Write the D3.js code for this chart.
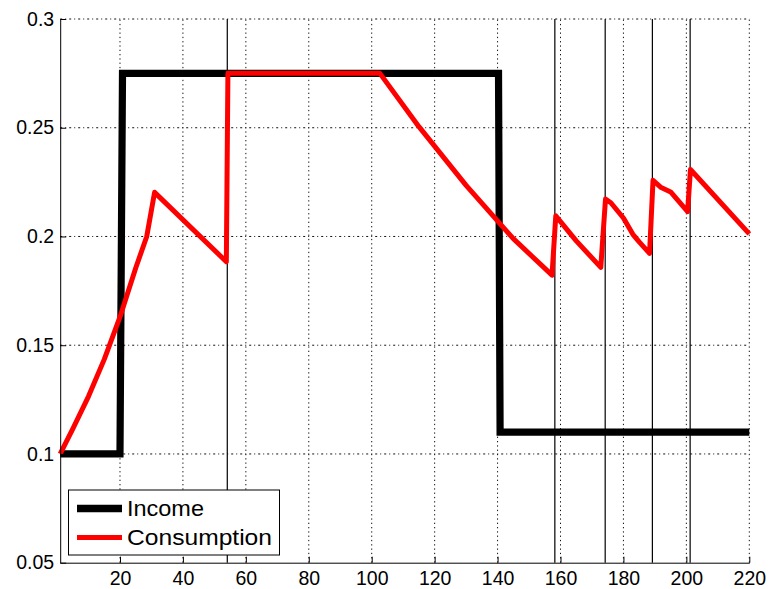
<!DOCTYPE html>
<html><head><meta charset="utf-8">
<script src="https://cdn.jsdelivr.net/npm/d3@7"></script>
<style>body{margin:0;background:#fff}svg{display:block}text{font-family:"Liberation Sans",Arial,Helvetica,sans-serif;fill:#000}</style>
</head><body>
<svg id="chart" width="771" height="589"></svg>
<script>
const xTicks = [20,40,60,80,100,120,140,160,180,200,220];
const yTicks = [0.05,0.1,0.15,0.2,0.25,0.3];
const yTickLabels = ["0.05","0.1","0.15","0.2","0.25","0.3"];
const incomeT = [1,20,20.8,140.3,140.8,220];
const incomeV = [0.1,0.1,0.275,0.275,0.11,0.11];
const consT = [1,5,10,15,20,25,28.5,31,53.8,54.3,102.6,115,130,145,157.3,158.5,165,172.8,174.3,176,180,183,185,188.3,189.4,192,195,200.4,201.3,220];
const consV = [0.1,0.1115,0.1265,0.1435,0.163,0.1855,0.2,0.2203,0.1884,0.275,0.275,0.2505,0.2235,0.199,0.1822,0.2095,0.198,0.1858,0.2172,0.2155,0.2085,0.201,0.1975,0.1922,0.2258,0.2225,0.2205,0.2114,0.2308,0.2012];
const eventT = [54.1,158.2,174.2,189.2,201.2];
const legendLabels = ["Income","Consumption"];
const legendWidths = [77,145];
const colors = ["#000000","#ff0000"];

const svg = d3.select("#chart");
const x = d3.scaleLinear().domain([1,220]).range([60.2,749.3]);
const y = d3.scaleLinear().domain([0.05,0.3]).range([562.7,19]);

// grid
const g = svg.append("g");
g.selectAll(".vg").data(xTicks).join("line")
  .attr("x1",d=>x(d)).attr("x2",d=>x(d)).attr("y1",y(0.05)).attr("y2",y(0.3))
  .attr("stroke","#111").attr("stroke-width",1).attr("stroke-dasharray","1.3,3");
g.selectAll(".hg").data(yTicks.slice(1)).join("line")
  .attr("x1",x(1)).attr("x2",x(220)).attr("y1",d=>y(d)).attr("y2",d=>y(d))
  .attr("stroke","#111").attr("stroke-width",1).attr("stroke-dasharray","2,3,1,3");

// event lines
g.selectAll(".ev").data(eventT).join("line")
  .attr("x1",d=>x(d)).attr("x2",d=>x(d)).attr("y1",y(0.05)).attr("y2",y(0.3))
  .attr("stroke","#000").attr("stroke-width",1.2);

const line = d3.line().x(d=>x(d[0])).y(d=>y(d[1]));
svg.append("path").datum(incomeT.map((t,i)=>[t,incomeV[i]]))
  .attr("d",line).attr("fill","none").attr("stroke",colors[0]).attr("stroke-width",7.2).attr("stroke-linejoin","miter");
svg.append("path").datum(consT.map((t,i)=>[t,consV[i]]))
  .attr("d",line).attr("fill","none").attr("stroke",colors[1]).attr("stroke-width",5).attr("stroke-linejoin","round");

// axes
const xAxis = d3.axisBottom(x).tickValues(xTicks).tickSizeInner(-6).tickSizeOuter(0).tickPadding(0);
const yAxis = d3.axisLeft(y).tickValues(yTicks).tickFormat((d,i)=>yTickLabels[i]).tickSizeInner(-6).tickSizeOuter(0).tickPadding(6);
const gx = svg.append("g").attr("transform",`translate(0,${y(0.05)})`).call(xAxis);
const gy = svg.append("g").attr("transform",`translate(${x(1)},0)`).call(yAxis);
[gx,gy].forEach(a=>{
  a.select(".domain").attr("stroke","#000").attr("stroke-width",1);
  a.selectAll(".tick line").attr("stroke","#000");
  a.selectAll("text").style("font-size","19.5px").attr("fill","#000");
});
gx.selectAll("text").attr("y",22).attr("dy","0");

// legend
const lg = svg.append("g");
lg.append("rect").attr("x",68.5).attr("y",490).attr("width",211).attr("height",65)
  .attr("fill","#fff").attr("stroke","#000").attr("stroke-width",1);
legendLabels.forEach((lab,i)=>{
  const yy = 508.5 + i*29;
  lg.append("line").attr("x1",77).attr("x2",122).attr("y1",yy).attr("y2",yy)
    .attr("stroke",colors[i]).attr("stroke-width",i===0?7.5:5);
  lg.append("text").attr("x",127).attr("y",yy).attr("dy","0.36em")
    .attr("textLength",legendWidths[i]).attr("lengthAdjust","spacingAndGlyphs")
    .style("font-size","22px").text(lab);
});
</script>
</body></html>
